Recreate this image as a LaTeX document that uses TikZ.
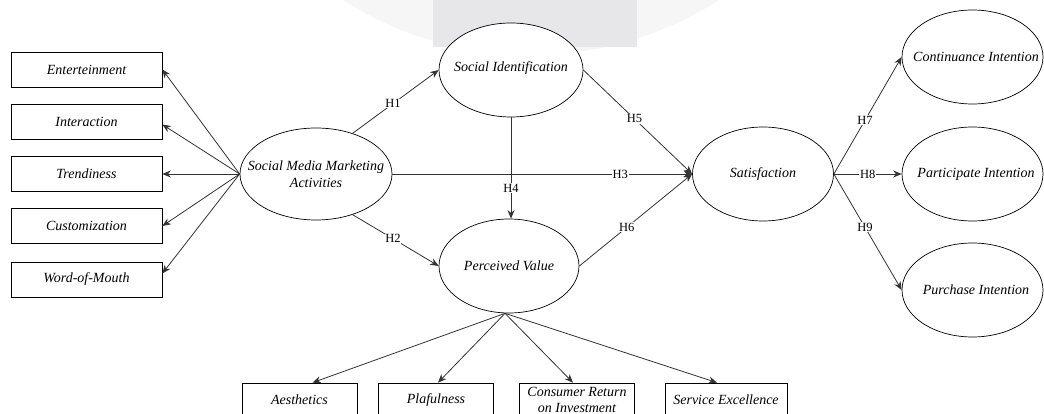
\documentclass[tikz,border=0pt]{standalone}
\usepackage{fontspec}
\setmainfont{Liberation Serif}
\usetikzlibrary{shapes.geometric,arrows.meta}
\definecolor{wmlight}{HTML}{F6F6F7}
\definecolor{wmdark}{HTML}{E7E7EA}
\tikzset{
  lat/.style={ellipse,draw=black,line width=0.7pt,fill=white,inner sep=0pt},
  lattext/.style={inner sep=0pt,align=center,font=\itshape\fontsize{14}{16.5}\selectfont},
  ind/.style={rectangle,draw=black,line width=0.7pt,fill=white,inner sep=0pt,align=center,
    font=\itshape\fontsize{14}{16.5}\selectfont},
  indtext/.style={inner sep=0pt,align=center,font=\itshape\fontsize{14}{16}\selectfont},
  conn/.style={draw=black!80,line width=0.8pt,-{Stealth[length=8.5pt,width=7pt]}},
  hl/.style={fill=white,inner sep=0.8pt,font=\fontsize{12.5}{13}\selectfont}
}
\begin{document}
\begin{tikzpicture}[x=1pt,y=-1pt]
\useasboundingbox (0,0) rectangle (1044,414);
\clip (0,0) rectangle (1044,414);
% faint watermark
\fill[wmlight] (531,-294) circle (349pt);
\fill[wmdark] (433,0) rectangle (637,47);
% latent constructs
\node[lat,minimum width=152pt,minimum height=92pt] (smma) at (316,174) {};
\node[lattext] (smmat) at (316,174) {Social Media Marketing\\Activities};
\node[lat,minimum width=144pt,minimum height=94pt] (si) at (511,70) {};
\node[lattext] (sit) at (511,68) {Social Identification};
\node[lat,minimum width=140pt,minimum height=94pt] (pv) at (509,266) {};
\node[lattext] (pvt) at (509,266) {Perceived Value};
\node[lat,minimum width=141pt,minimum height=94pt] (sat) at (763,174) {};
\node[lattext] (satt) at (763,174) {Satisfaction};
\node[lat,minimum width=141pt,minimum height=94pt] (ci) at (972.5,57) {};
\node[lattext] (cit) at (976,57) {Continuance Intention};
\node[lat,minimum width=141pt,minimum height=94pt] (pi) at (972.5,174) {};
\node[lattext] (pit) at (976,174) {Participate Intention};
\node[lat,minimum width=141pt,minimum height=94pt] (pu) at (972.5,290) {};
\node[lattext] (put) at (976,290) {Purchase Intention};
% left indicators
\node[ind,minimum width=151pt,minimum height=35pt] (ent) at (86.5,69.5) {Enterteinment};
\node[ind,minimum width=151pt,minimum height=35pt] (int) at (86.5,121.5) {Interaction};
\node[ind,minimum width=151pt,minimum height=35pt] (tre) at (86.5,174) {Trendiness};
\node[ind,minimum width=151pt,minimum height=35pt] (cus) at (86.5,226) {Customization};
\node[ind,minimum width=151pt,minimum height=35pt] (wom) at (86.5,279.5) {Word-of-Mouth};
% bottom indicators (lower edge runs off the picture)
\node[ind,minimum width=115pt,minimum height=44pt] (aes) at (299.5,405) {};
\node[indtext] (aest) at (299.5,400) {Aesthetics};
\node[ind,minimum width=115pt,minimum height=44pt] (pla) at (436,405) {};
\node[indtext] (plat) at (436,400) {Plafulness};
\node[ind,minimum width=115pt,minimum height=44pt] (cro) at (577,405) {};
\node[indtext] (crot) at (577,400) {Consumer Return\\on Investment};
\node[ind,minimum width=122pt,minimum height=44pt] (sex) at (726,405) {};
\node[indtext] (sext) at (726,400) {Service Excellence};
% SMMA to indicators
\draw[conn] (smma.west) -- (ent.east);
\draw[conn] (smma.west) -- ([yshift=-3pt]int.east);
\draw[conn] (smma.west) -- (tre.east);
\draw[conn] (smma.west) -- (cus.east);
\draw[conn] (smma.west) -- ([yshift=6pt]wom.east);
% PV to indicators
\coordinate (pvb) at ([xshift=-4pt]pv.south);
\draw[conn] (pvb) -- ([xshift=13pt]aes.north);
\draw[conn] (pvb) -- ([xshift=2pt]pla.north);
\draw[conn] (pvb) -- ([xshift=-4pt]cro.north);
\draw[conn] (pvb) -- ([xshift=-9pt]sex.north);
% structural paths
\draw[conn] (smma.48) -- node[hl,pos=0.47]{H1} (si.west);
\draw[conn] (smma.-48) -- node[hl,pos=0.47]{H2} (pv.west);
\draw[conn] (smma.east) -- node[hl,pos=0.76]{H3} (sat.west);
\draw[conn] (si.south) -- node[hl,pos=0.70]{H4} (si.south |- pv.north);
\draw[conn] (si.east) -- node[hl,pos=0.47]{H5} (sat.west);
\draw[conn] (pv.east) -- node[hl,pos=0.42]{H6} (sat.west);
\draw[conn] (sat.east) -- node[hl,pos=0.46]{H7} (ci.west);
\draw[conn] (sat.east) -- node[hl,pos=0.5]{H8} (pi.west);
\draw[conn] (sat.east) -- node[hl,pos=0.46]{H9} (pu.west);
\end{tikzpicture}
\end{document}
